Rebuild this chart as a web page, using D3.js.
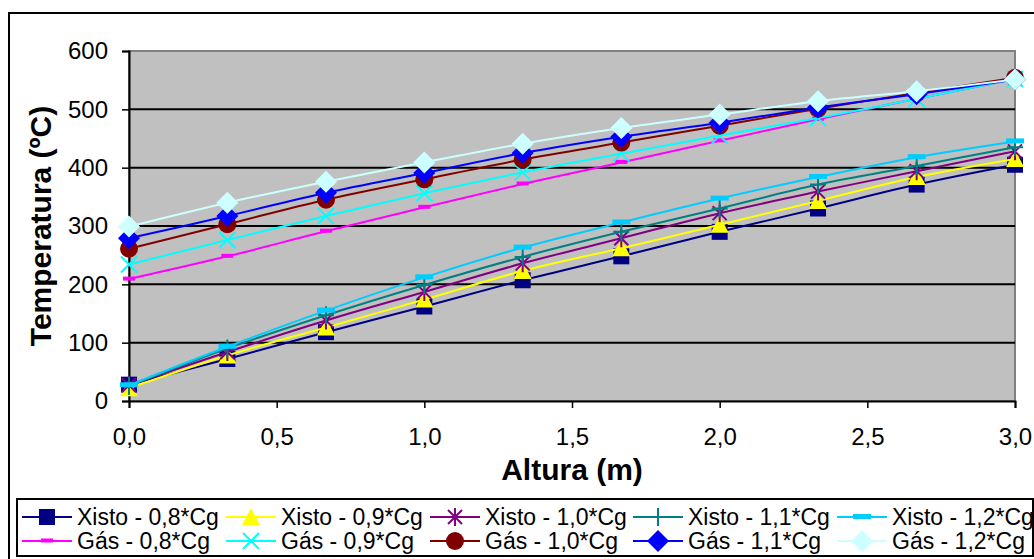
<!DOCTYPE html>
<html><head><meta charset="utf-8">
<script src="https://cdn.jsdelivr.net/npm/d3@7"></script>
<style>
html,body{margin:0;padding:0;background:#fff;}
svg{display:block;font-family:Arial,"Liberation Sans",sans-serif;}
</style></head>
<body>
<svg id="chart" width="1034" height="559"></svg>
<script>
// ---- data ----
const altura = [0, 0.333, 0.667, 1.0, 1.333, 1.667, 2.0, 2.333, 2.667, 3.0];
const xTicks = [0, 0.5, 1.0, 1.5, 2.0, 2.5, 3.0];
const yTicks = [0, 100, 200, 300, 400, 500, 600];
const seriesNames = ["Xisto - 0,8*Cg","Xisto - 0,9*Cg","Xisto - 1,0*Cg","Xisto - 1,1*Cg","Xisto - 1,2*Cg",
                     "Gás - 0,8*Cg","Gás - 0,9*Cg","Gás - 1,0*Cg","Gás - 1,1*Cg","Gás - 1,2*Cg"];
const xisto08 = [28, 72, 118, 162, 207, 248, 290, 330, 371, 405];
const xisto09 = [22, 78, 126, 174, 223, 262, 302, 343, 384, 415];
const xisto10 = [27, 84, 138, 187, 236, 279, 322, 359, 394, 428];
const xisto11 = [26, 90, 147, 199, 247, 290, 330, 371, 403, 435];
const xisto12 = [27, 93, 155, 212, 263, 306, 347, 384, 418, 445];
const gas08 = [209, 248, 291, 332, 372, 409, 446, 483, 518, 552];
const gas09 = [234, 276, 317, 356, 392, 424, 455, 485, 518, 552];
const gas10 = [261, 303, 345, 380, 414, 443, 472, 501, 528, 554];
const gas11 = [279, 317, 357, 391, 425, 453, 477, 503, 526, 551];
const gas12 = [299, 340, 376, 409, 441, 468, 491, 514, 531, 551];
const seriesValues = [xisto08, xisto09, xisto10, xisto11, xisto12, gas08, gas09, gas10, gas11, gas12];
const seriesColors = ["#000080","#FFFF00","#800080","#008080","#00CCFF","#FF00FF","#00FFFF","#800000","#0000FF","#CCFFFF"];
const seriesMarkers = ["square","triangle","asterisk","plus","dash","dashSmall","cross","circle","diamond","diamond"];

// ---- layout ----
const svg = d3.select("#chart");
const L = 129, R = 1015, T = 51, B = 401;
const x = d3.scaleLinear().domain([0, 3]).range([L, R]);
const y = d3.scaleLinear().domain([0, 600]).range([B, T]);

// outer border
svg.append("rect").attr("x", 9).attr("y", 13).attr("width", 1040).attr("height", 560)
  .attr("fill", "#fff").attr("stroke", "#000").attr("stroke-width", 2);

// plot area
svg.append("rect").attr("x", L).attr("y", T).attr("width", R - L).attr("height", B - T)
  .attr("fill", "#C0C0C0").attr("stroke", "#808080").attr("stroke-width", 2);

// gridlines
svg.append("g").selectAll("line").data(yTicks.filter(d => d > 0 && d < 600)).join("line")
  .attr("x1", L).attr("x2", R).attr("y1", d => y(d)).attr("y2", d => y(d))
  .attr("stroke", "#000").attr("stroke-width", 2);

// axes
const yAxis = d3.axisLeft(y).tickValues(yTicks).tickSize(7).tickPadding(14).tickFormat(d3.format("d"));
const gy = svg.append("g").attr("transform", `translate(${L},0)`).call(yAxis);
const xAxis = d3.axisBottom(x).tickValues(xTicks).tickSize(7).tickPadding(20)
  .tickFormat(d => d3.format(".1f")(d).replace(".", ","));
const gx = svg.append("g").attr("transform", `translate(0,${B})`).call(xAxis);
[gx, gy].forEach(g => {
  g.select(".domain").attr("stroke", "#000").attr("stroke-width", 2);
  g.selectAll(".tick line").attr("stroke", "#000").attr("stroke-width", 1.5);
  g.selectAll(".tick text").attr("font-size", 24).attr("fill", "#000")
    .attr("font-family", "Arial, 'Liberation Sans', sans-serif");
});
gx.selectAll(".tick text").attr("dy", "0.35em").attr("y", 36);

// axis titles
svg.append("text").attr("x", (L + R) / 2).attr("y", 480).attr("text-anchor", "middle")
  .attr("font-size", 30).attr("font-weight", "bold").text("Altura (m)");
svg.append("text").attr("transform", `translate(51,${(T + B) / 2}) rotate(-90)`).attr("text-anchor", "middle")
  .attr("font-size", 30).attr("font-weight", "bold").text("Temperatura (ºC)");

// markers
function drawMarker(g, type, color, cx, cy) {
  const s = g.append("g").attr("transform", `translate(${cx},${cy})`);
  switch (type) {
    case "square":
      s.append("rect").attr("x", -8).attr("y", -8).attr("width", 16).attr("height", 16).attr("fill", color); break;
    case "triangle":
      s.append("path").attr("d", "M0,-9L9,8L-9,8Z").attr("fill", color); break;
    case "asterisk":
      s.append("path").attr("d", "M-7,-7L7,7M-7,7L7,-7M0,-9L0,9").attr("stroke", color).attr("stroke-width", 2).attr("fill", "none"); break;
    case "plus":
      s.append("path").attr("d", "M-8,0L8,0M0,-9L0,9").attr("stroke", color).attr("stroke-width", 2).attr("fill", "none"); break;
    case "dash":
      s.append("rect").attr("x", -9).attr("y", -3).attr("width", 18).attr("height", 5).attr("fill", color); break;
    case "dashSmall":
      s.append("rect").attr("x", -6).attr("y", -2.5).attr("width", 12).attr("height", 4).attr("fill", color); break;
    case "cross":
      s.append("path").attr("d", "M-8,-8L8,8M-8,8L8,-8").attr("stroke", color).attr("stroke-width", 2).attr("fill", "none"); break;
    case "circle":
      s.append("circle").attr("r", 9).attr("fill", color); break;
    case "diamond":
      s.append("path").attr("d", "M0,-11L11,0L0,11L-11,0Z").attr("fill", color); break;
  }
}

const line = d3.line().x((d, i) => x(altura[i])).y(d => y(d)).curve(d3.curveCatmullRom.alpha(0.5));
const plot = svg.append("g");
seriesValues.forEach((vals, k) => {
  const g = plot.append("g");
  g.append("path").attr("d", line(vals)).attr("fill", "none")
    .attr("stroke", seriesColors[k]).attr("stroke-width", 2);
  vals.forEach((v, i) => drawMarker(g, seriesMarkers[k], seriesColors[k], x(altura[i]), y(v)));
});

// legend
svg.append("rect").attr("x", 17).attr("y", 499).attr("width", 1016).attr("height", 57)
  .attr("fill", "#fff").attr("stroke", "#000").attr("stroke-width", 2);
const colX = [22, 226, 430, 633, 837];
const rowY = [517, 541];
seriesNames.forEach((name, k) => {
  const cx = colX[k % 5], cy = rowY[Math.floor(k / 5)];
  const g = svg.append("g");
  g.append("line").attr("x1", cx).attr("x2", cx + 50).attr("y1", cy).attr("y2", cy)
    .attr("stroke", seriesColors[k]).attr("stroke-width", 2);
  drawMarker(g, seriesMarkers[k], seriesColors[k], cx + 25, cy);
  g.append("text").attr("x", cx + 55).attr("y", cy).attr("dy", "0.35em")
    .attr("font-size", 23).attr("fill", "#000").text(name);
});
</script>
</body></html>
